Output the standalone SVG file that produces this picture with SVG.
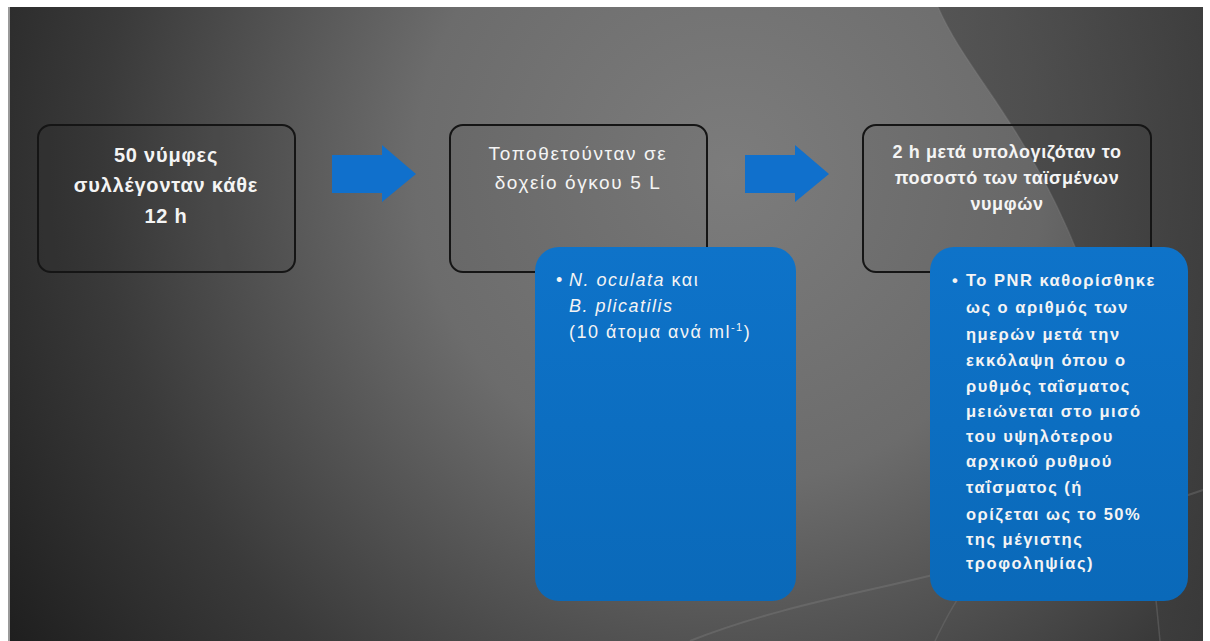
<svg xmlns="http://www.w3.org/2000/svg" width="1210" height="641" viewBox="0 0 1210 641">
  <defs>
    <radialGradient id="bg" cx="730" cy="170" r="900" gradientUnits="userSpaceOnUse">
      <stop offset="0" stop-color="#7c7c7c"/>
      <stop offset="0.35" stop-color="#6c6c6c"/>
      <stop offset="0.7" stop-color="#3a3a3a"/>
      <stop offset="1" stop-color="#1a1a1a"/>
    </radialGradient>
    <linearGradient id="rightShade" x1="0" y1="0" x2="1" y2="0">
      <stop offset="0" stop-color="#4e4e4e"/>
      <stop offset="1" stop-color="#3a3a3a"/>
    </linearGradient>
    <linearGradient id="blue" x1="0" y1="0" x2="0" y2="1">
      <stop offset="0" stop-color="#0e73c9"/>
      <stop offset="1" stop-color="#0a69b9"/>
    </linearGradient>
    <style>
      .step { fill: #000; fill-opacity: 0.04; stroke: #151515; stroke-width: 2; }
      .note { fill: url(#blue); }
      .arrow { fill: #1070cc; }
      .t { font-family: "Liberation Sans", "DejaVu Sans", sans-serif; fill: #f4f4f4; }
      .b { font-weight: bold; }
      .c { text-anchor: middle; }
      .i { font-style: italic; }
    </style>
  </defs>

  <rect x="0" y="0" width="1210" height="641" fill="#ffffff"/>
  <rect x="9" y="7" width="1194" height="634" fill="url(#bg)"/>
  <path d="M938,7 C 985,115 1120,190 1160,641 L1203,641 L1203,7 Z" fill="url(#rightShade)" fill-opacity="0.8"/>
  <path d="M938,7 C 985,115 1120,190 1160,641" fill="none" stroke="#8a8a8a" stroke-opacity="0.3" stroke-width="1.5"/>
  <path d="M690,641 C 780,605 880,590 960,568 C 1050,540 1130,515 1203,490" fill="none" stroke="#8a8a8a" stroke-opacity="0.3" stroke-width="2"/>
  <path d="M935,641 C 945,620 955,600 968,585" fill="none" stroke="#8a8a8a" stroke-opacity="0.25" stroke-width="1.5"/>
  <rect x="8" y="7" width="2" height="634" fill="#9a9a9a"/>

  <g id="connectors">
    <path class="arrow" d="M332,155 L382,155 L382,145 L416,174 L382,202 L382,193 L332,193 Z"/>
    <path class="arrow" d="M745,155 L795,155 L795,145 L829,174 L795,202 L795,193 L745,193 Z"/>
  </g>

  <g id="step1">
    <rect class="step" x="38" y="125" width="257" height="147" rx="13"/>
    <g class="t b c" font-size="20" letter-spacing="0.8">
      <text x="166" y="162">50 νύμφες</text>
      <text x="166" y="192">συλλέγονταν κάθε</text>
      <text x="166" y="223">12 h</text>
    </g>
  </g>

  <g id="step2">
    <rect class="step" x="450" y="125" width="257" height="147" rx="13"/>
    <g class="t c" font-size="19" letter-spacing="1.6">
      <text x="578" y="160">Τοποθετούνταν σε</text>
      <text x="578" y="189">δοχείο όγκου 5 L</text>
    </g>
  </g>

  <g id="step3">
    <rect class="step" x="863" y="125" width="288" height="147" rx="13"/>
    <g class="t b c" font-size="18" letter-spacing="0.6">
      <text x="1007" y="158">2 h μετά υπολογιζόταν το</text>
      <text x="1007" y="184">ποσοστό των ταϊσμένων</text>
      <text x="1007" y="210">νυμφών</text>
    </g>
  </g>

  <g id="note1">
    <rect class="note" x="535" y="247" width="261" height="354" rx="24"/>
    <g class="t" font-size="18" letter-spacing="1.5">
      <text x="556" y="286">•</text>
      <text x="569" y="286"><tspan class="i">N. oculata</tspan> και</text>
      <text class="i" x="569" y="312">B. plicatilis</text>
      <text x="569" y="338">(10 άτομα ανά ml<tspan font-size="11" dy="-7">-1</tspan><tspan dy="7">)</tspan></text>
    </g>
  </g>

  <g id="note2">
    <rect class="note" x="930" y="247" width="258" height="354" rx="24"/>
    <g class="t b" font-size="16.5" letter-spacing="1.5">
      <text x="952" y="286">•</text>
      <text x="966" y="286">Το PNR καθορίσθηκε</text>
      <text x="966" y="313">ως ο αριθμός των</text>
      <text x="966" y="340">ημερών μετά την</text>
      <text x="966" y="366">εκκόλαψη όπου ο</text>
      <text x="966" y="392">ρυθμός ταΐσματος</text>
      <text x="966" y="417">μειώνεται στο μισό</text>
      <text x="966" y="442">του υψηλότερου</text>
      <text x="966" y="467">αρχικού ρυθμού</text>
      <text x="966" y="493">ταΐσματος (ή</text>
      <text x="966" y="520">ορίζεται ως το 50%</text>
      <text x="966" y="545">της μέγιστης</text>
      <text x="966" y="569">τροφοληψίας)</text>
    </g>
  </g>
</svg>
